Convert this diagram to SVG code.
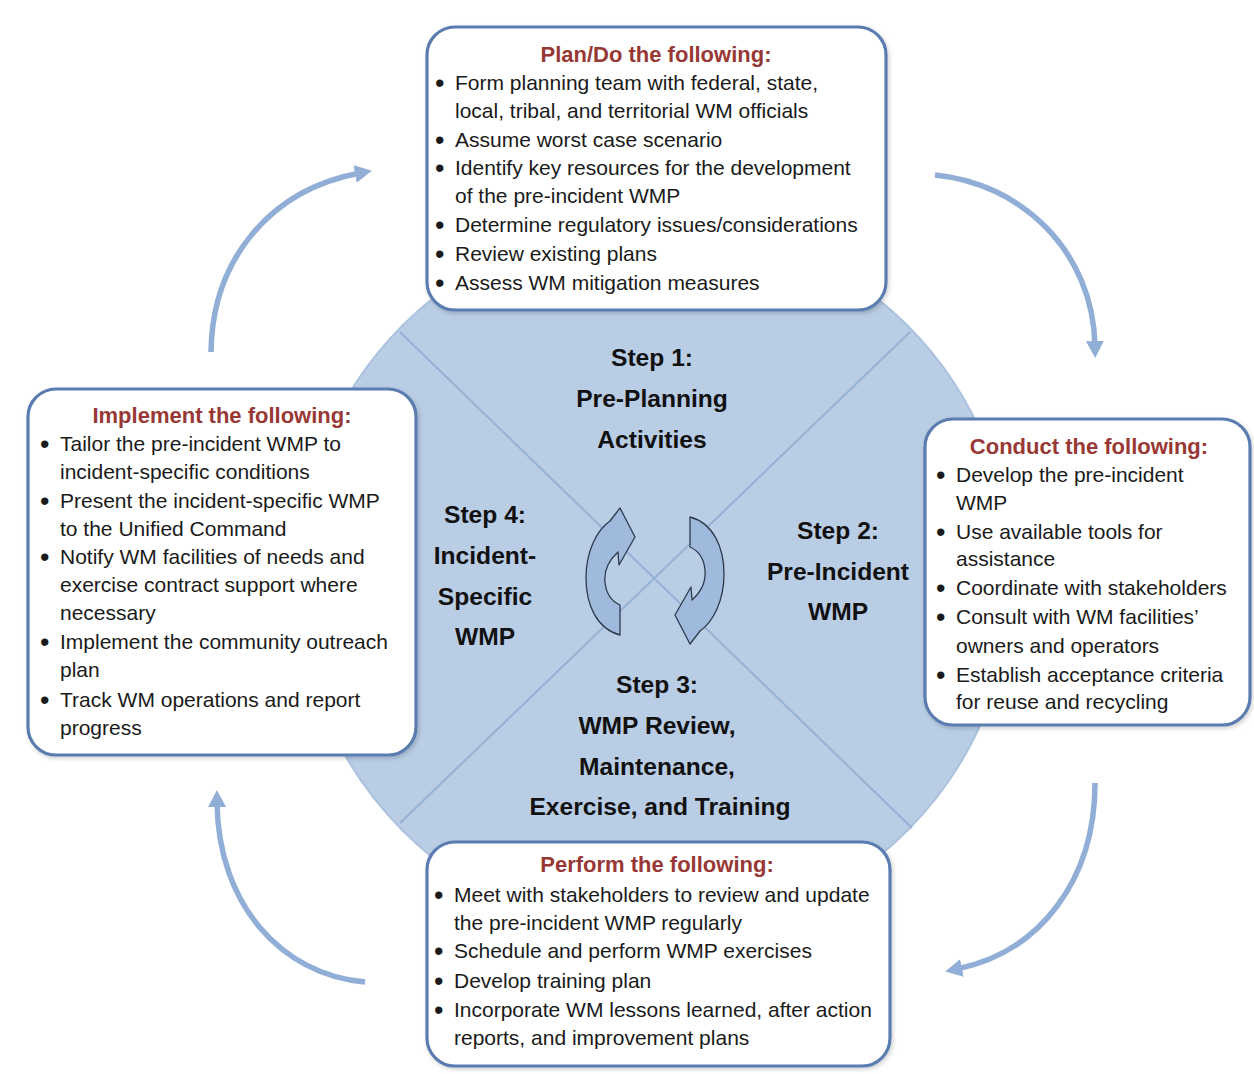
<svg xmlns="http://www.w3.org/2000/svg" width="1254" height="1074" viewBox="0 0 1254 1074">
<defs>
<style>
.box{fill:#ffffff;stroke:#5a7cb0;stroke-width:3.2}
.title{font-family:"Liberation Sans",Arial,sans-serif;font-size:22px;font-weight:bold;fill:#983835;text-anchor:middle}
.item{font-family:"Liberation Sans",Arial,sans-serif;font-size:21px;fill:#1a1a1a}
.bul{font-family:"Liberation Sans",Arial,sans-serif;font-size:27px;fill:#1a1a1a}
.step{font-family:"Liberation Sans",Arial,sans-serif;font-size:24.6px;font-weight:bold;fill:#111111;text-anchor:middle}
.arc{fill:none;stroke:#91aed7;stroke-width:5.5}
.diag{stroke:#96b1d6;stroke-width:2}
.cyc{fill:#9fbadd;stroke:#2e3a4e;stroke-width:1.3;stroke-linejoin:round}
</style>
<marker id="ah" markerUnits="userSpaceOnUse" markerWidth="20" markerHeight="20" refX="5" refY="9" orient="auto">
<path d="M0,0 L17,9 L0,18 z" fill="#91aed7"/>
</marker>
<filter id="sh" x="-5%" y="-5%" width="110%" height="112%">
<feDropShadow dx="1.5" dy="2" stdDeviation="2" flood-color="#000" flood-opacity="0.18"/>
</filter>
</defs>
<rect width="1254" height="1074" fill="#ffffff"/>

<g id="hub">
<circle cx="655" cy="578" r="357" fill="#b9cde5" stroke="#abc1de" stroke-width="2"/>
<line class="diag" x1="400" y1="332" x2="912" y2="828"/>
<line class="diag" x1="910" y1="332" x2="400" y2="823"/>
<path class="cyc" d="M620,635 C597,629 586,605 586,578 C586,551 597,530 610,521 L620,508 L635,537 L619,565 L618,552 C608,561 604,572 605,582 C606,593 611,601 620,605 Z"/>
<path class="cyc" transform="rotate(180 655 576)" d="M620,635 C597,629 586,605 586,578 C586,551 597,530 610,521 L620,508 L635,537 L619,565 L618,552 C608,561 604,572 605,582 C606,593 611,601 620,605 Z"/>
</g>

<g id="step1">
<text class="step" x="652" y="366">Step 1:</text>
<text class="step" x="652" y="407">Pre-Planning</text>
<text class="step" x="652" y="448">Activities</text>
</g>
<g id="step2">
<text class="step" x="838" y="539">Step 2:</text>
<text class="step" x="838" y="580">Pre-Incident</text>
<text class="step" x="838" y="620">WMP</text>
</g>
<g id="step3">
<text class="step" x="657" y="693">Step 3:</text>
<text class="step" x="657" y="734">WMP Review,</text>
<text class="step" x="657" y="775">Maintenance,</text>
<text class="step" x="660" y="815">Exercise, and Training</text>
</g>
<g id="step4">
<text class="step" x="485" y="523">Step 4:</text>
<text class="step" x="485" y="564">Incident-</text>
<text class="step" x="485" y="605">Specific</text>
<text class="step" x="485" y="645">WMP</text>
</g>

<g id="connectors">
<path class="arc" marker-end="url(#ah)" d="M211,352 C212,262 268,190 360,173"/>
<path class="arc" marker-end="url(#ah)" d="M935,175 C1020,183 1093,250 1095,346"/>
<path class="arc" marker-end="url(#ah)" d="M1095,783 C1095,880 1040,952 957,969"/>
<path class="arc" marker-end="url(#ah)" d="M365,982 C282,975 218,905 217,802"/>
</g>

<g id="plan">
<rect class="box" filter="url(#sh)" x="427" y="27" width="459" height="283" rx="28"/>
<text class="title" x="656" y="62">Plan/Do the following:</text>
<text class="bul" x="435" y="92">•</text><text class="item" x="455" y="90">Form planning team with federal, state,</text>
<text class="item" x="455" y="118">local, tribal, and territorial WM officials</text>
<text class="bul" x="435" y="149">•</text><text class="item" x="455" y="147">Assume worst case scenario</text>
<text class="bul" x="435" y="177">•</text><text class="item" x="455" y="175">Identify key resources for the development</text>
<text class="item" x="455" y="203">of the pre-incident WMP</text>
<text class="bul" x="435" y="234">•</text><text class="item" x="455" y="232">Determine regulatory issues/considerations</text>
<text class="bul" x="435" y="263">•</text><text class="item" x="455" y="261">Review existing plans</text>
<text class="bul" x="435" y="292">•</text><text class="item" x="455" y="290">Assess WM mitigation measures</text>
</g>

<g id="conduct">
<rect class="box" filter="url(#sh)" x="925" y="419" width="325" height="306" rx="28"/>
<text class="title" x="1089" y="454">Conduct the following:</text>
<text class="bul" x="936" y="484">•</text><text class="item" x="956" y="482">Develop the pre-incident</text>
<text class="item" x="956" y="510">WMP</text>
<text class="bul" x="936" y="541">•</text><text class="item" x="956" y="539">Use available tools for</text>
<text class="item" x="956" y="566">assistance</text>
<text class="bul" x="936" y="597">•</text><text class="item" x="956" y="595">Coordinate with stakeholders</text>
<text class="bul" x="936" y="626">•</text><text class="item" x="956" y="624">Consult with WM facilities’</text>
<text class="item" x="956" y="653">owners and operators</text>
<text class="bul" x="936" y="684">•</text><text class="item" x="956" y="682">Establish acceptance criteria</text>
<text class="item" x="956" y="709">for reuse and recycling</text>
</g>

<g id="perform">
<rect class="box" filter="url(#sh)" x="427" y="842" width="463" height="224" rx="28"/>
<text class="title" x="657" y="872">Perform the following:</text>
<text class="bul" x="434" y="904">•</text><text class="item" x="454" y="902">Meet with stakeholders to review and update</text>
<text class="item" x="454" y="930">the pre-incident WMP regularly</text>
<text class="bul" x="434" y="960">•</text><text class="item" x="454" y="958">Schedule and perform WMP exercises</text>
<text class="bul" x="434" y="990">•</text><text class="item" x="454" y="988">Develop training plan</text>
<text class="bul" x="434" y="1019">•</text><text class="item" x="454" y="1017">Incorporate WM lessons learned, after action</text>
<text class="item" x="454" y="1045">reports, and improvement plans</text>
</g>

<g id="implement">
<rect class="box" filter="url(#sh)" x="28" y="389" width="388" height="366" rx="28"/>
<text class="title" x="222" y="423">Implement the following:</text>
<text class="bul" x="40" y="453">•</text><text class="item" x="60" y="451">Tailor the pre-incident WMP to</text>
<text class="item" x="60" y="479">incident-specific conditions</text>
<text class="bul" x="40" y="510">•</text><text class="item" x="60" y="508">Present the incident-specific WMP</text>
<text class="item" x="60" y="536">to the Unified Command</text>
<text class="bul" x="40" y="566">•</text><text class="item" x="60" y="564">Notify WM facilities of needs and</text>
<text class="item" x="60" y="592">exercise contract support where</text>
<text class="item" x="60" y="620">necessary</text>
<text class="bul" x="40" y="651">•</text><text class="item" x="60" y="649">Implement the community outreach</text>
<text class="item" x="60" y="677">plan</text>
<text class="bul" x="40" y="709">•</text><text class="item" x="60" y="707">Track WM operations and report</text>
<text class="item" x="60" y="735">progress</text>
</g>
</svg>
